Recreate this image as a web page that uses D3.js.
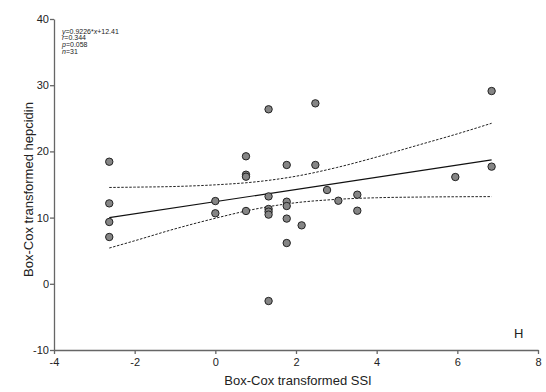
<!DOCTYPE html>
<html>
<head>
<meta charset="utf-8">
<script src="https://cdn.jsdelivr.net/npm/d3@7"></script>
<style>
  body { margin: 0; background: #fff; }
  svg { font-family: "Liberation Sans", Arial, sans-serif; }
</style>
</head>
<body>
<svg id="chart" width="546" height="392"></svg>
<script>
// data
const ssi = [-2.63, -2.63, -2.63, -2.63, 0, 0, 0.76, 0.76, 0.76, 0.76,
  1.32, 1.32, 1.32, 1.32, 1.32, 1.32, 1.77, 1.77, 1.77, 1.77, 1.77,
  2.14, 2.48, 2.48, 2.77, 3.05, 3.52, 3.52, 5.95, 6.85, 6.85];
const hepcidin = [18.44, 12.15, 9.34, 7.07, 12.5, 10.65, 19.26, 16.48, 16.18, 11.0,
  26.36, 13.2, 11.3, 10.9, 10.45, -2.6, 17.95, 12.4, 11.75, 9.85, 6.16,
  8.83, 27.26, 17.95, 14.17, 12.55, 13.46, 11.04, 16.13, 29.12, 17.7];

// fit line y = 0.9226x + 12.41
const slope = 0.9226;
const intercept = 12.41;

// 95% band, read at these x positions
const bandX = [-2.63, -2, -1, 0, 1, 2, 3, 4, 5, 6, 6.85];
const bandUpper = [14.55, 14.6, 14.7, 14.95, 15.4, 16.25, 17.55, 19.15, 20.9, 22.65, 24.25];
const bandLower = [5.4, 6.5, 8.3, 9.9, 11.3, 12.25, 12.75, 13.0, 13.1, 13.15, 13.17];

const xTicks = [-4, -2, 0, 2, 4, 6, 8];
const yTicks = [-10, 0, 10, 20, 30, 40];
const statLines = [
  [["y", true], ["=0.9226*", false], ["x", true], ["+12.41", false]],
  [["r", true], ["=0.344", false]],
  [["p", true], ["=0.058", false]],
  [["n", true], ["=31", false]]
];

const svg = d3.select("#chart");
const plotL = 54, plotR = 538, plotT = 19, plotB = 350;

const x = d3.scaleLinear().domain([-4, 8]).range([plotL, plotR]);
const y = d3.scaleLinear().domain([-10, 40]).range([plotB, plotT]);

// axes, plain hyphen for negatives like the original
const fmt = d => String(d);
const xAxis = svg.append("g")
  .attr("transform", "translate(0," + plotB + ")")
  .call(d3.axisBottom(x).tickValues(xTicks).tickFormat(fmt).tickSize(4).tickSizeOuter(0));
const yAxis = svg.append("g")
  .attr("transform", "translate(" + plotL + ",0)")
  .call(d3.axisLeft(y).tickValues(yTicks).tickFormat(fmt).tickSize(4).tickSizeOuter(0));

[xAxis, yAxis].forEach(a => {
  a.select(".domain").attr("stroke", "#666").attr("stroke-width", 1.3);
  a.selectAll(".tick line").attr("stroke", "#666").attr("stroke-width", 1.3);
  a.selectAll(".tick text").attr("fill", "#222").style("font-size", "11px")
    .style("font-family", "Liberation Sans, Arial, sans-serif");
});
xAxis.selectAll(".tick text").attr("dy", "0.85em");
yAxis.selectAll(".tick text").attr("x", -5);

// axis titles
svg.append("text")
  .attr("x", (plotL + plotR) / 2 + 2)
  .attr("y", 385)
  .attr("text-anchor", "middle")
  .style("font-size", "13px")
  .attr("fill", "#222")
  .text("Box-Cox transformed SSI");

svg.append("text")
  .attr("transform", "translate(33," + ((plotT + plotB) / 2 + 5) + ") rotate(-90)")
  .attr("text-anchor", "middle")
  .style("font-size", "13px")
  .attr("fill", "#222")
  .text("Box-Cox transformed hepcidin");

// confidence band
const bandLine = d3.line().curve(d3.curveMonotoneX);
[bandUpper, bandLower].forEach(vals => {
  svg.append("path")
    .attr("d", bandLine(bandX.map((v, i) => [x(v), y(vals[i])])))
    .attr("fill", "none")
    .attr("stroke", "#222")
    .attr("stroke-width", 1)
    .attr("stroke-dasharray", "2.5,1.5");
});

// regression line
const x0 = d3.min(ssi), x1 = d3.max(ssi);
svg.append("line")
  .attr("x1", x(x0)).attr("y1", y(slope * x0 + intercept))
  .attr("x2", x(x1)).attr("y2", y(slope * x1 + intercept))
  .attr("stroke", "#111")
  .attr("stroke-width", 1.2);

// points
svg.selectAll("circle.pt")
  .data(ssi.map((v, i) => ({ x: v, y: hepcidin[i] })))
  .enter()
  .append("circle")
  .attr("class", "pt")
  .attr("cx", d => x(d.x))
  .attr("cy", d => y(d.y))
  .attr("r", 3.7)
  .attr("fill", "#858585")
  .attr("stroke", "#222")
  .attr("stroke-width", 1);

// stats text
const stats = svg.append("text")
  .attr("x", 62)
  .attr("y", 33.5)
  .style("font-size", "7px")
  .attr("fill", "#222");
statLines.forEach((parts, i) => {
  parts.forEach((p, j) => {
    const t = stats.append("tspan").text(p[0]);
    if (j === 0) t.attr("x", 62).attr("dy", i === 0 ? 0 : 6.9);
    if (p[1]) t.style("font-style", "italic");
  });
});

// panel letter
svg.append("text")
  .attr("x", 514)
  .attr("y", 338)
  .style("font-size", "13px")
  .attr("fill", "#222")
  .text("H");
</script>
</body>
</html>
